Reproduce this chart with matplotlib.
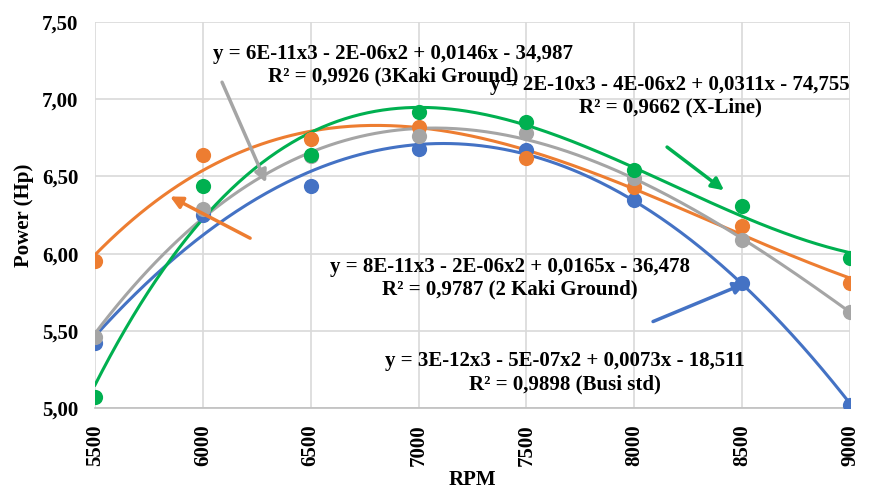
import numpy as np
import matplotlib
matplotlib.use("Agg")
import matplotlib.pyplot as plt

# RPM and power readings (Hp)
rpm = [5500, 6000, 6500, 7000, 7500, 8000, 8500, 9000]
busi_std = [5.42, 6.25, 6.44, 6.68, 6.67, 6.35, 5.81, 5.02]
kaki2_ground = [5.95, 6.64, 6.74, 6.82, 6.62, 6.43, 6.18, 5.81]
kaki3_ground = [5.46, 6.29, 6.63, 6.76, 6.78, 6.49, 6.09, 5.62]
x_line = [5.07, 6.44, 6.64, 6.92, 6.85, 6.54, 6.31, 5.97]

series = [busi_std, kaki2_ground, kaki3_ground, x_line]
colors = ["#4472C4", "#ED7D31", "#A5A5A5", "#00B050"]

# trendline labels as printed on the chart
eq_3kaki = "y = 6E-11x3 - 2E-06x2 + 0,0146x - 34,987\nR² = 0,9926 (3Kaki Ground)"
eq_xline = "y = 2E-10x3 - 4E-06x2 + 0,0311x - 74,755\nR² = 0,9662 (X-Line)"
eq_2kaki = "y = 8E-11x3 - 2E-06x2 + 0,0165x - 36,478\nR² = 0,9787 (2 Kaki Ground)"
eq_busi = "y = 3E-12x3 - 5E-07x2 + 0,0073x - 18,511\nR² = 0,9898 (Busi std)"

plt.rcParams["font.family"] = ["Liberation Serif", "DejaVu Serif"]
plt.rcParams["font.weight"] = "bold"

fig = plt.figure(figsize=(8.73, 4.90), dpi=100)
ax = fig.add_axes([95 / 873, 1 - 408 / 490, 755 / 873, 386 / 490])

x = np.array(rpm, dtype=float)
xs = np.linspace(5500, 9000, 300)
xc = (x - 7250) / 1000
for vals, c in zip(series, colors):
    coef = np.polyfit(xc, vals, 3)
    ax.plot(xs, np.polyval(coef, (xs - 7250) / 1000), color=c, lw=2.2, zorder=3)
    ax.scatter(rpm, vals, s=120, color=c, zorder=4, linewidths=0)

ax.set_xlim(5500, 9000)
ax.set_ylim(5.0, 7.5)
ax.set_xticks(rpm)
ax.set_xticklabels([str(r) for r in rpm], rotation=90, fontsize=15, fontweight="bold")
yt = np.arange(5.0, 7.51, 0.5)
ax.set_yticks(yt)
ax.set_yticklabels([f"{v:.2f}".replace(".", ",") for v in yt], fontsize=15, fontweight="bold")
ax.tick_params(axis="y", length=0, pad=12)
ax.tick_params(axis="x", length=0, pad=12)
ax.grid(True, color="#D9D9D9", lw=1.2, zorder=0)
for s in ["top", "right", "left"]:
    ax.spines[s].set_visible(False)
ax.spines["bottom"].set_color("#BFBFBF")
ax.spines["bottom"].set_linewidth(1.2)

ax.set_xlabel("RPM", fontsize=15, fontweight="bold", labelpad=3)
ax.set_ylabel("Power (Hp)", fontsize=15, fontweight="bold", labelpad=6)

tk = dict(ha="center", va="center", fontsize=15, fontweight="bold", linespacing=1.2, zorder=5)
ax.text(6881, 7.22, eq_3kaki, **tk)
ax.text(8166, 7.02, eq_xline, **tk)
ax.text(7424, 5.84, eq_2kaki, **tk)
ax.text(7679, 5.23, eq_busi, **tk)

arrows = [
    ((6089, 7.11), (6293, 6.46), "#A5A5A5"),
    ((6219, 6.10), (5848, 6.37), "#ED7D31"),
    ((8152, 6.69), (8416, 6.41), "#00B050"),
    ((8087, 5.56), (8518, 5.81), "#4472C4"),
]
for tail, head, c in arrows:
    ax.annotate("", xy=head, xytext=tail,
                arrowprops=dict(arrowstyle="-|>", color=c, lw=2.5, mutation_scale=18,
                                shrinkA=0, shrinkB=0), zorder=5)

fig.savefig("out.png", dpi=100)
